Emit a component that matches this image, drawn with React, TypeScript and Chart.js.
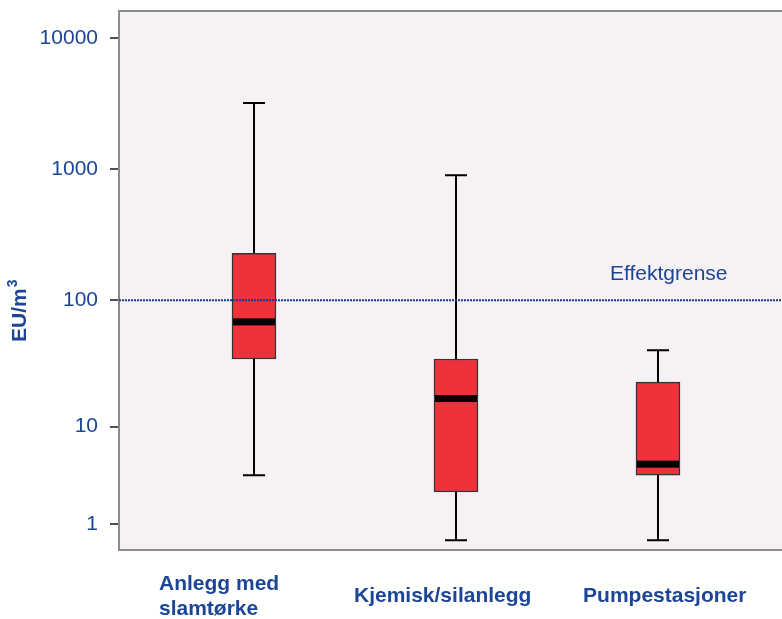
import React, { useEffect, useRef } from "react";
import { Chart, registerables } from "chart.js";

Chart.register(...registerables);

// ---- data ----
const categories: (string | string[])[] = [["Anlegg med", "slamtørke"], "Kjemisk/silanlegg", "Pumpestasjoner"];
const whiskerLow = [3.7, 0.5, 0.5];
const quartile1 = [35, 2.5, 3.7];
const medians = [68, 17, 4.7];
const quartile3 = [228, 35, 23];
const whiskerHigh = [3200, 900, 41];
const yTickValues = [1, 10, 100, 1000, 10000];
const yTickLabels = ["1", "10", "100", "1000", "10000"];
const thresholdValue = 100;
const thresholdLabel = "Effektgrense";
const yTitleBase = "EU/m";
const yTitleSup = "3";

// axis transform: log10(v + 1)
const tf = (v: number) => Math.log10(v + 1);

const BLUE = "#1c4595";
const FONT = "'Liberation Sans', Arial, sans-serif";

export default function App() {
  const ref = useRef<HTMLCanvasElement | null>(null);

  useEffect(() => {
    if (!ref.current) return;
    const xMin = -0.6683;
    const xMax = 2.6139;
    const labelAnchors = [-0.4703, 0.495, 1.629];

    const boxPlugin = {
      id: "boxplot",
      beforeDraw(chart: any) {
        const { ctx, chartArea: a } = chart;
        ctx.save();
        ctx.fillStyle = "#f6f1f5";
        ctx.fillRect(a.left, a.top, a.right - a.left, a.bottom - a.top);
        ctx.restore();
      },
      beforeDatasetsDraw(chart: any) {
        const { ctx } = chart;
        const xs = chart.scales.x;
        const ys = chart.scales.y;
        ctx.save();
        ctx.strokeStyle = "#000";
        ctx.lineWidth = 2;
        categories.forEach((_, i) => {
          const x = Math.round(xs.getPixelForValue(i));
          const yHi = ys.getPixelForValue(tf(whiskerHigh[i]));
          const yLo = ys.getPixelForValue(tf(whiskerLow[i]));
          ctx.beginPath();
          ctx.moveTo(x, yHi);
          ctx.lineTo(x, yLo);
          ctx.moveTo(x - 11, yHi);
          ctx.lineTo(x + 11, yHi);
          ctx.moveTo(x - 11, yLo);
          ctx.lineTo(x + 11, yLo);
          ctx.stroke();
        });
        ctx.restore();
      },
      afterDatasetsDraw(chart: any) {
        const { ctx } = chart;
        const xs = chart.scales.x;
        const ys = chart.scales.y;
        const meta = chart.getDatasetMeta(1);
        ctx.save();
        ctx.fillStyle = "#000";
        categories.forEach((_, i) => {
          const x = xs.getPixelForValue(i);
          const w = meta.data[i] ? meta.data[i].width : 44;
          const y = ys.getPixelForValue(tf(medians[i]));
          ctx.fillRect(x - w / 2 + 1, y - 3.5, w - 2, 7);
        });
        // threshold label
        ctx.fillStyle = BLUE;
        ctx.font = `21px ${FONT}`;
        ctx.textAlign = "left";
        ctx.textBaseline = "alphabetic";
        ctx.fillText(thresholdLabel, xs.getPixelForValue(2) - 48, ys.getPixelForValue(tf(thresholdValue)) - 20);
        ctx.restore();
      },
      afterDraw(chart: any) {
        const { ctx, chartArea: a } = chart;
        ctx.save();
        ctx.strokeStyle = "#8c8c8c";
        ctx.lineWidth = 2;
        ctx.beginPath();
        ctx.moveTo(a.left - 1, a.top);
        ctx.lineTo(a.right, a.top);
        ctx.stroke();
        // y-axis title with superscript
        ctx.translate(26, 342);
        ctx.rotate(-Math.PI / 2);
        ctx.fillStyle = BLUE;
        ctx.textAlign = "left";
        ctx.textBaseline = "alphabetic";
        ctx.font = `bold 21px ${FONT}`;
        ctx.fillText(yTitleBase, 0, 0);
        const w = ctx.measureText(yTitleBase).width;
        ctx.font = `bold 14px ${FONT}`;
        ctx.fillText(yTitleSup, w + 1, -9);
        ctx.restore();
      },
    };

    const chart = new Chart(ref.current, {
      type: "bar",
      data: {
        datasets: [
          {
            type: "line",
            data: [
              { x: xMin, y: tf(thresholdValue) },
              { x: xMax, y: tf(thresholdValue) },
            ],
            borderColor: "#143a8e",
            borderWidth: 2,
            borderDash: [2, 1],
            pointRadius: 0,
            fill: false,
          } as any,
          {
            type: "bar",
            data: categories.map((_, i) => ({ x: i, y: [tf(quartile1[i]), tf(quartile3[i])] })),
            backgroundColor: "#ef313c",
            borderColor: "#333333",
            borderWidth: 1.5,
            borderSkipped: false,
            barThickness: 44,
          } as any,
        ],
      },
      options: {
        animation: false,
        responsive: false,
        devicePixelRatio: 1,
        layout: { padding: { top: 11, right: 0, bottom: 0, left: 0 } },
        plugins: { legend: { display: false }, tooltip: { enabled: false } },
        scales: {
          x: {
            type: "linear",
            min: xMin,
            max: xMax,
            offset: false,
            afterBuildTicks: (s: any) => {
              s.ticks = labelAnchors.map((v) => ({ value: v }));
            },
            afterFit: (s: any) => {
              s.height = 69;
              s.paddingLeft = 0;
              s.paddingRight = 0;
            },
            grid: { display: false, drawTicks: false, tickLength: 0 },
            border: { display: true, color: "#8c8c8c", width: 2 },
            ticks: {
              autoSkip: false,
              maxRotation: 0,
              minRotation: 0,
              align: "start",
              crossAlign: "center",
              padding: 34,
              color: BLUE,
              font: { family: FONT, size: 21, weight: "bold" },
              callback: (_v: any, i: number) => categories[i],
            },
          } as any,
          y: {
            type: "linear",
            min: 0.1027,
            max: 4.2047,
            afterBuildTicks: (s: any) => {
              s.ticks = yTickValues.map((v) => ({ value: tf(v) }));
            },
            afterFit: (s: any) => {
              s.width = 119;
              s.paddingTop = 0;
              s.paddingBottom = 0;
            },
            grid: {
              display: true,
              drawOnChartArea: false,
              drawTicks: true,
              tickLength: 9,
              color: "#505050",
              lineWidth: 2,
            },
            border: { display: true, color: "#8c8c8c", width: 2 },
            ticks: {
              autoSkip: false,
              padding: 12,
              color: BLUE,
              font: { family: FONT, size: 21 },
              callback: (_v: any, i: number) => yTickLabels[i],
            },
          } as any,
        },
      },
      plugins: [boxPlugin],
    } as any);
    return () => chart.destroy();
  }, []);

  return (
    <div style={{ position: "absolute", left: 0, top: 0, width: 782, height: 619, background: "#fff" }}>
      <canvas ref={ref} width={782} height={619} style={{ display: "block" }} />
    </div>
  );
}
